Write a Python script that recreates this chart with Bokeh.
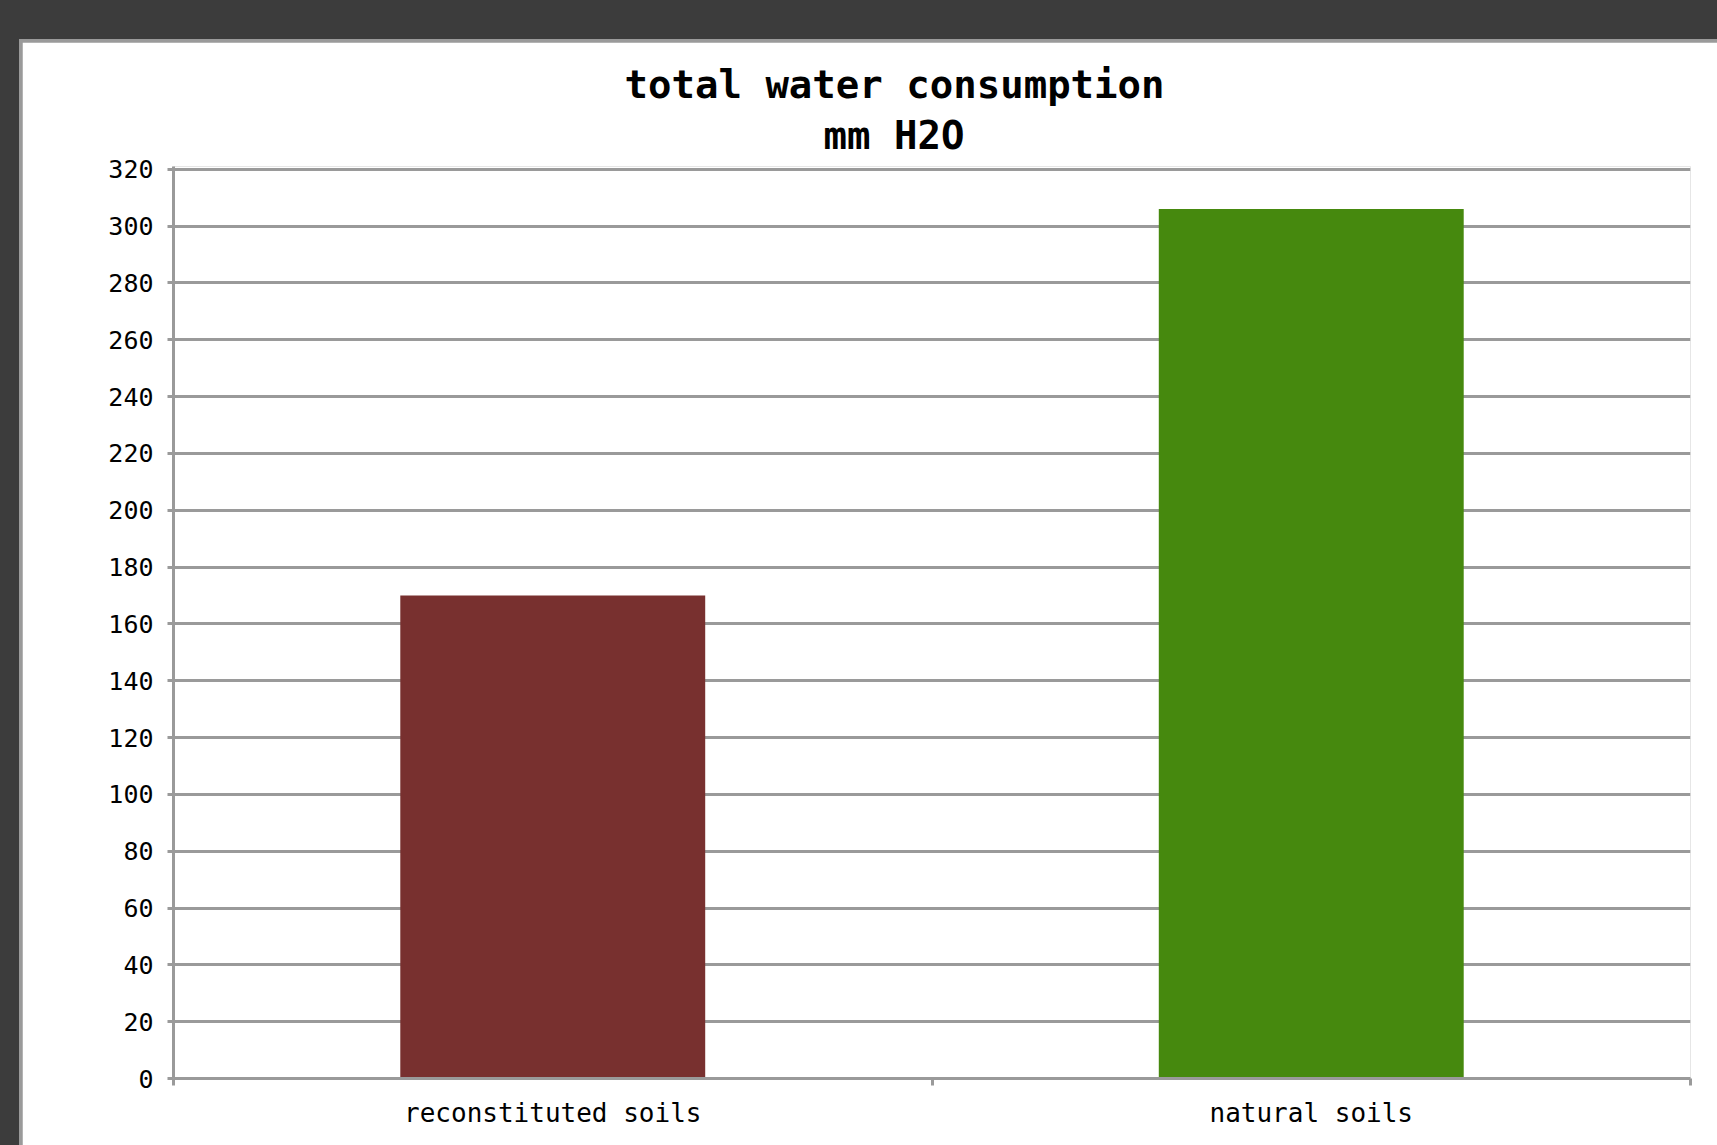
from bokeh.plotting import figure
from bokeh.models import Range1d, FixedTicker, Title, ColumnDataSource
from bokeh.layouts import column
from bokeh.embed import file_html
from bokeh.resources import INLINE

categories = ["reconstituted soils", "natural soils"]
values = [170, 306]
bar_colors = ["#78302f", "#46890e"]
y_ticks = list(range(0, 321, 20))
title_lines = ["total water consumption", "mm H2O"]

FONT = "DejaVu Sans Mono"
GRID = "#9a9a9a"

n = len(categories)
centers = [i + 0.5 for i in range(n)]
src = ColumnDataSource(dict(x=centers, top=values, color=bar_colors, cat=categories))

p = figure(width=1695, height=1103, x_range=Range1d(0, n), y_range=Range1d(0, 321),
           output_backend="svg", toolbar_location=None,
           min_border_left=151, min_border_right=27, min_border_top=124, min_border_bottom=67,
           background_fill_color="white", border_fill_color="white", outline_line_color=None,
           margin=(3, 0, 0, 3))
p.title.text = ""

spacer = Title(text=" ", text_font_size="1px", standoff=4)
t2 = Title(text=title_lines[1], align="left", offset=650, text_font=FONT,
           text_font_size="39px", text_font_style="bold", text_color="black", standoff=4)
t1 = Title(text=title_lines[0], align="left", offset=451, text_font=FONT,
           text_font_size="39px", text_font_style="bold", text_color="black", standoff=4)
p.add_layout(spacer, "above")
p.add_layout(t2, "above")
p.add_layout(t1, "above")

p.vbar(x="x", top="top", bottom=0, width=0.402, color="color", line_color=None, source=src)

ya = p.yaxis[0]
ya.ticker = FixedTicker(ticks=y_ticks)
ya.axis_line_color = GRID
ya.axis_line_width = 3
ya.major_tick_line_color = GRID
ya.major_tick_line_width = 3
ya.major_tick_out = 6
ya.major_tick_in = 0
ya.minor_tick_line_color = None
ya.major_label_text_font = FONT
ya.major_label_text_font_size = "25px"
ya.major_label_text_color = "black"
ya.major_label_standoff = 14

xa = p.xaxis[0]
xa.ticker = FixedTicker(ticks=centers, minor_ticks=list(range(n + 1)))
xa.axis_line_color = GRID
xa.axis_line_width = 3
xa.major_tick_out = 0
xa.major_tick_in = 0
xa.major_tick_line_color = None
xa.minor_tick_out = 7
xa.minor_tick_in = 0
xa.minor_tick_line_color = GRID
xa.minor_tick_line_width = 3
xa.major_label_overrides = {c: cat for c, cat in zip(centers, categories)}
xa.major_label_text_font = FONT
xa.major_label_text_font_size = "26px"
xa.major_label_text_color = "black"
xa.major_label_standoff = 12

p.xgrid.visible = False
p.ygrid.ticker = FixedTicker(ticks=y_ticks)
p.ygrid.grid_line_color = GRID
p.ygrid.grid_line_width = 3

inner = column(p, width=1698, height=1106, margin=(39, 0, 0, 19),
               styles={"background-color": "#9a9a9a"})
outer = column(inner, width=1717, height=1145,
               styles={"background-color": "#3c3c3c"})

open("out.html", "w").write(file_html(outer, INLINE))
